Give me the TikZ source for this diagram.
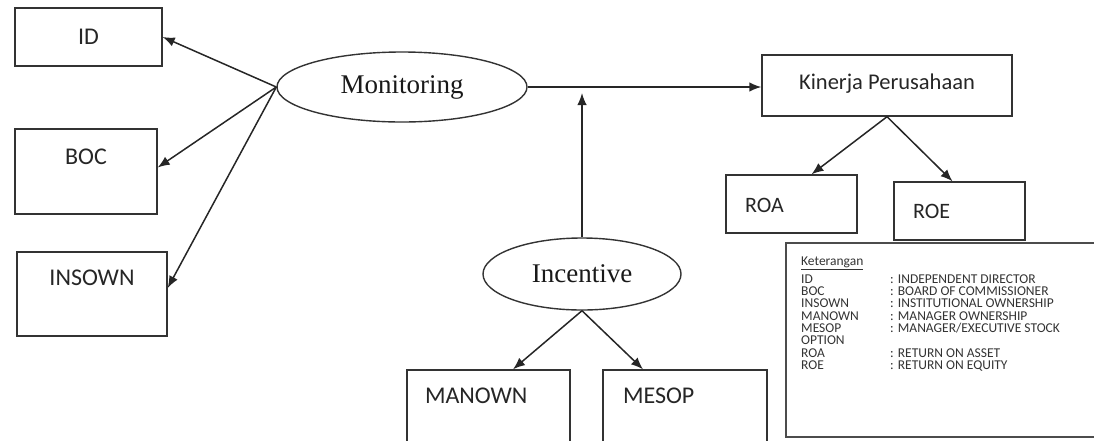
\documentclass[tikz,border=0pt]{standalone}
\usepackage{fontspec}
\setmainfont{Liberation Serif}
\newfontfamily\carlito{Carlito}
\usetikzlibrary{shapes.geometric,arrows.meta}
\tikzset{
	kotak/.style={draw, line width=1.4pt, color=black!80, text=black!85, inner sep=0pt, font=\carlito\fontsize{24}{24}\selectfont},
	elips/.style={draw, ellipse, line width=1.4pt, color=black!80, text=black!90, inner sep=0pt, font=\fontsize{27}{27}\selectfont},
	panah/.style={line width=1.5pt, color=black!85, -{Latex[length=12pt,width=9.5pt]}}
}

\begin{document}
\begin{tikzpicture}[x=1pt,y=-1pt]
			%%%%% START %%%%%
			\useasboundingbox (0,0) rectangle (1094,440);
			
			% monitoring side
			\node[kotak, minimum width=147pt, text height=36pt, text depth=22pt] (id) at (88.5, 37) {ID};
			\node[kotak, minimum width=142pt, text height=35pt, text depth=50pt] (boc) at (86, 171.5) {BOC};
			\node[kotak, minimum width=150pt, text height=33pt, text depth=51pt] (insown) at (92, 294) {INSOWN};
			\node[elips, minimum width=250pt, minimum height=70pt] (mon) at (402, 87) {Monitoring};
			
			% incentive side
			\node[elips, minimum width=198pt, minimum height=72pt] (inc) at (582, 274) {Incentive};
			\node[kotak, text width=127pt, align=left, inner xsep=18pt, text height=33pt, text depth=45pt] (manown) at (488.5, 409) {MANOWN};
			\node[kotak, text width=124pt, align=left, inner xsep=20pt, text height=33pt, text depth=45pt] (mesop) at (685, 409) {MESOP};
			
			% performance
			\node[kotak, minimum width=250pt, text height=34pt, text depth=27pt, font=\carlito\fontsize{22.5}{22.5}\selectfont] (kinerja) at (887, 85.5) {Kinerja Perusahaan};
			\node[kotak, text width=93pt, align=left, inner xsep=19pt, text height=37pt, text depth=21pt, font=\carlito\fontsize{22}{22}\selectfont] (roa) at (791.5, 204) {ROA};
			\node[kotak, text width=93pt, align=left, inner xsep=19pt, text height=36pt, text depth=22pt, font=\carlito\fontsize{22}{22}\selectfont] (roe) at (959.5, 211) {ROE};
			
			\draw[panah] (mon.west) -- (id.east);
			\draw[panah] (mon.west) -- ([yshift=4pt]boc.east);
			\draw[panah] (mon.west) -- ([yshift=6pt]insown.east);
			\draw[panah] (mon.east) -- (mon.east -| kinerja.west);
			
			\coordinate (temu) at (582, 93);
			\draw[panah] (inc.north) -- (temu);
			\draw[panah] (inc.south) -- ([xshift=24.5pt]manown.north);
			\draw[panah] (inc.south) -- ([xshift=-42pt]mesop.north);
			
			\draw[panah] (kinerja.south) -- ([xshift=20pt]roa.north);
			\draw[panah] (kinerja.south) -- ([xshift=-7pt]roe.north);
			
			% legend
			\draw[line width=1.2pt, color=black!70] (786, 243) rectangle (1100, 437);
			\node[anchor=north west, inner sep=0pt, text=black!80, font=\carlito\fontsize{13.5}{11.3}\selectfont] (ket) at (801, 257) {%
				\begin{tabular}{@{}p{89pt}@{}l@{}}
					\underline{Keterangan} & \\[5.6pt]
					ID & : INDEPENDENT DIRECTOR \\
					BOC & : BOARD OF COMMISSIONER \\
					INSOWN & : INSTITUTIONAL OWNERSHIP \\
					MANOWN & : MANAGER OWNERSHIP \\
					MESOP & : MANAGER/EXECUTIVE STOCK \\
					OPTION & \\
					ROA & : RETURN ON ASSET \\
					ROE & : RETURN ON EQUITY
				\end{tabular}};
			
			%%%%% END %%%%%
\end{tikzpicture}
\end{document}
